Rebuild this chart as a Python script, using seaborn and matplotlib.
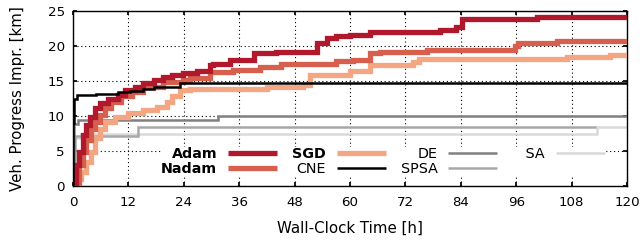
import pandas as pd
import matplotlib
matplotlib.use("Agg")
import matplotlib.pyplot as plt
import seaborn as sns

# step curves: value holds from t[i] until t[i+1]
adam_t = [0, 0.7, 1.4, 2.2, 2.9, 3.6, 4.7, 5.8, 7.6, 9.7, 11.2, 13.4, 15.2, 17.5, 19.5, 21.5,
          23.9, 26.8, 29.7, 30.3, 34, 39.3, 44, 52.8, 55, 57, 60, 64.3, 79.5, 83, 84.2, 100.4, 120]
adam_y = [0, 3.0, 4.9, 7.3, 8.7, 9.9, 11.1, 11.8, 12.5, 13.0, 13.7, 14.2, 14.7, 15.1, 15.6, 15.8,
          16.1, 16.5, 17.3, 17.5, 18.0, 19.0, 19.2, 20.4, 21.1, 21.4, 21.6, 21.95, 22.3, 22.75, 23.8, 24.15, 24.15]

nadam_t = [0, 0.7, 1.4, 2.2, 2.9, 4.0, 4.7, 5.8, 6.9, 8.3, 10.5, 12.7, 15.2, 19.5, 23.9, 25.3,
           29.7, 34.7, 40.5, 45, 57, 60.7, 64.3, 66.5, 76.7, 95.7, 96.4, 104.8, 120]
nadam_y = [0, 0.5, 3.0, 4.9, 6.6, 8.2, 9.2, 10.1, 11.1, 12.0, 12.8, 13.4, 14.2, 14.9, 15.2, 15.4,
           16.3, 16.6, 17.0, 17.5, 17.8, 18.0, 18.95, 19.2, 19.5, 20.0, 20.4, 20.75, 20.75]

sgd_t = [0, 1.1, 1.8, 2.9, 4.0, 4.7, 5.8, 6.9, 9.0, 11.9, 15.2, 18.1, 20.3, 21.4, 23.2, 25.3,
         42, 49.8, 51.3, 60, 64.3, 73.7, 75, 107, 116.3, 120]
sgd_y = [0, 1.0, 2.0, 3.5, 4.9, 6.8, 8.2, 9.2, 9.9, 10.4, 10.9, 11.3, 12.0, 12.8, 13.7, 13.9,
         14.2, 14.4, 15.9, 16.4, 17.3, 17.75, 18.1, 18.4, 18.7, 18.7]

cne_t = [0, 0.1, 0.3, 0.8, 5, 9.7, 12.3, 15.2, 17.6, 23.2, 120]
cne_y = [0, 9.0, 12.5, 13.0, 13.2, 13.5, 13.6, 13.8, 14.1, 14.7, 14.7]

de_t = [0, 0.2, 1.1, 31.3, 120]
de_y = [0, 8.8, 9.5, 10.0, 10.0]

spsa_t = [0, 0.4, 14.0, 113.3]
spsa_y = [0, 7.2, 8.4, 8.4]

sa_t = [0, 0.1, 1.8, 113.5, 120]
sa_y = [0, 6.8, 7.4, 8.4, 8.4]

x_ticks = [0, 12, 24, 36, 48, 60, 72, 84, 96, 108, 120]
y_ticks = [0, 5, 10, 15, 20, 25]

sns.set_theme(style="ticks", rc={
    "axes.edgecolor": "black",
    "axes.linewidth": 1.0,
    "xtick.direction": "in",
    "ytick.direction": "in",
    "xtick.top": True,
    "ytick.right": True,
    "xtick.major.size": 3,
    "ytick.major.size": 3,
    "xtick.color": "black",
    "ytick.color": "black",
    "text.color": "black",
    "axes.labelcolor": "black",
})
plt.rcParams["font.family"] = ["DejaVu Sans"]
plt.rcParams["font.size"] = 10
plt.rcParams["axes.labelsize"] = 10.8
plt.rcParams["xtick.labelsize"] = 9.6
plt.rcParams["ytick.labelsize"] = 9.6
plt.rcParams["legend.fontsize"] = 10.3

series = [
    ("Adam", adam_t, adam_y, "#b2182b", 3.8, 6),
    ("Nadam", nadam_t, nadam_y, "#d6604d", 3.8, 5),
    ("SGD", sgd_t, sgd_y, "#f4a582", 3.8, 4),
    ("CNE", cne_t, cne_y, "black", 1.8, 7),
    ("DE", de_t, de_y, "#808080", 1.8, 3),
    ("SPSA", spsa_t, spsa_y, "#a8a8a8", 1.8, 2),
    ("SA", sa_t, sa_y, "#d9d9d9", 1.8, 1),
]

fig, ax = plt.subplots(figsize=(6.44, 2.44), dpi=100)
fig.subplots_adjust(left=73 / 644, right=627 / 644, top=1 - 11 / 244, bottom=1 - 186 / 244)

handles = []
for name, t, y, color, lw, z in series:
    df = pd.DataFrame({"t": t, "v": y})
    sns.lineplot(data=df, x="t", y="v", ax=ax, color=color, linewidth=lw,
                 drawstyle="steps-post", estimator=None, sort=False, zorder=z,
                 solid_capstyle="butt", solid_joinstyle="miter")
    handles.append(ax.lines[-1])

ax.set_xlim(0, 120)
ax.set_ylim(0, 25)
ax.set_xticks(x_ticks)
ax.set_yticks(y_ticks)
ax.tick_params(axis="x", pad=7)
ax.tick_params(axis="y", pad=6)
ax.grid(True, color="black", linestyle=(0, (1, 2.5)), linewidth=0.8)
ax.set_axisbelow(True)
ax.set_xlabel("Wall-Clock Time [h]")
ax.set_ylabel("Veh. Progress Impr. [km]")
ax.xaxis.set_label_coords(0.5, (186 - 221) / 175)
ax.yaxis.set_label_coords((25 - 73) / 554, 0.5)

labels = ["Adam", "Nadam", "SGD", "CNE", "DE", "SPSA", "   SA"]
leg = ax.legend(handles, labels, ncol=4, markerfirst=False, loc="center left",
                bbox_to_anchor=((161 - 73) / 554, (186 - 161.7) / 175),
                frameon=True, fancybox=False, framealpha=1, borderpad=0,
                handlelength=3.43, handletextpad=0.77, columnspacing=1.03,
                labelspacing=0.05, borderaxespad=0)
leg.get_frame().set_edgecolor("none")
leg.get_frame().set_facecolor("white")
leg.set_zorder(10)
for txt in leg.get_texts():
    if txt.get_text().strip() in ("Adam", "Nadam", "SGD"):
        txt.set_fontweight("bold")

fig.savefig("out.png", dpi=100)
